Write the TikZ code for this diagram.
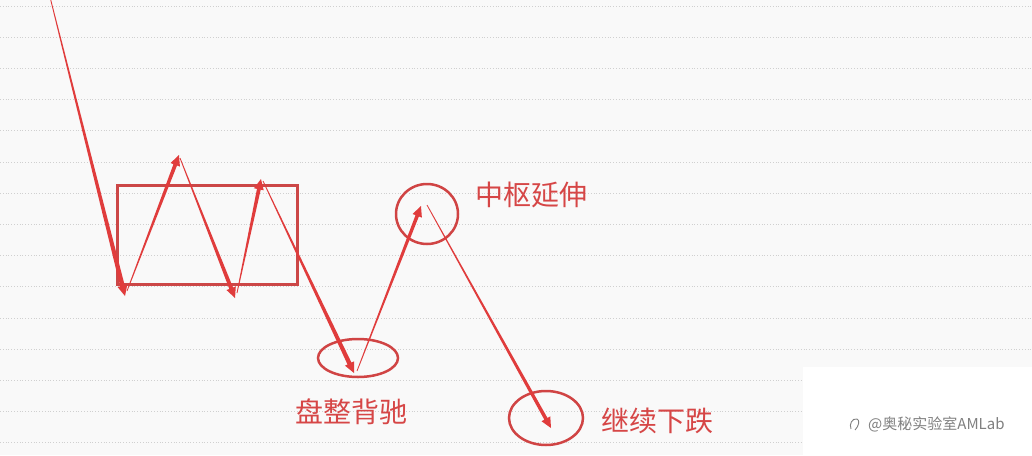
\documentclass[tikz,border=0pt]{standalone}
\usepackage{fontspec}
\newfontfamily\cjk{Noto Sans CJK SC}
\usetikzlibrary{calc,shapes.geometric}
\definecolor{bg}{HTML}{F9F9F9}
\definecolor{gridc}{HTML}{D0D0D0}
\definecolor{arrowred}{HTML}{E03C3C}
\definecolor{boxred}{HTML}{CC4747}
\definecolor{ringred}{HTML}{D04444}
\definecolor{textred}{HTML}{D64646}
\definecolor{wmgray}{HTML}{808080}
\tikzset{
  gridline/.style={gridc, dotted, line width=0.8pt},
  zsbox/.style={draw=boxred, line width=3pt},
  ring/.style={draw=ringred, line width=2.5pt, ellipse, inner sep=0pt},
  label/.style={text=textred, font=\cjk\fontsize{28}{30}\selectfont, inner sep=0pt},
  wmark/.style={text=wmgray, font=\cjk\fontsize{15}{17}\selectfont, inner sep=0pt},
}
% tapered arrow from #1 to #2, end half-width #3
\newcommand\tarrow[3]{%
  \coordinate (tH) at ($(#2)!10.5pt!(#1)$);
  \fill[arrowred] ($(#1)!0.4pt!90:(#2)$) -- ($(tH)!#3!-90:(#1)$) -- ($(tH)!5pt!-90:(#1)$) -- (#2)
     -- ($(tH)!5pt!90:(#1)$) -- ($(tH)!#3!90:(#1)$) -- ($(#1)!0.4pt!-90:(#2)$) -- cycle;
}
\begin{document}
\begin{tikzpicture}[x=1pt,y=-1pt]
\useasboundingbox (0,0) rectangle (1032,455);
\fill[bg] (0,0) rectangle (1032,455);
\foreach \k in {0,...,14} {
  \draw[gridline] (0,{6+31.2*\k}) -- (1032,{6+31.2*\k});
}
\fill[white] (803,367) rectangle (1032,455);

% consolidation box
\node[zsbox, minimum width=180pt, minimum height=99pt, inner sep=0pt] (zs) at (207,234.5) {};

% rings
\node[ring, minimum width=80pt, minimum height=38pt] (r1) at (358,358) {};
\node[ring, minimum width=62pt, minimum height=60pt] (r2) at (427,214) {};
\node[ring, minimum width=74pt, minimum height=54pt] (r3) at (546,418) {};

% turning points
\coordinate (p0) at (50,-3);
\coordinate (p1) at (125,296);
\coordinate (s1) at (127,291);
\coordinate (p2) at (179,155);
\coordinate (s2) at (180,158);
\coordinate (p3) at (235,298);
\coordinate (s3) at (237,293);
\coordinate (p4) at (261,179);
\coordinate (s4) at (263,181);
\coordinate (p5) at (354,373);
\coordinate (s5) at (357,371);
\coordinate (p6) at (421,206);
\coordinate (s6) at (427,205);
\coordinate (p7) at (551,428);

\tarrow{p0}{p1}{2.3pt}
\tarrow{s1}{p2}{1.9pt}
\tarrow{s2}{p3}{2pt}
\tarrow{s3}{p4}{1.9pt}
\tarrow{s4}{p5}{2.2pt}
\tarrow{s5}{p6}{1.8pt}
\tarrow{s6}{p7}{1.8pt}

% labels
\node[label] (t1) at (531,195) {中枢延伸};
\node[label] (t2) at (351,412) {盘整背驰};
\node[label] (t3) at (657,421) {继续下跌};

% watermark
\draw[wmgray, line width=0.9pt] (851,429) .. controls (849,424) and (852,418) .. (857,419) .. controls (860,420) and (859,426) .. (855,430);
\node[wmark, anchor=west] (wm) at (868,424) {@奥秘实验室AMLab};
\end{tikzpicture}
\end{document}
